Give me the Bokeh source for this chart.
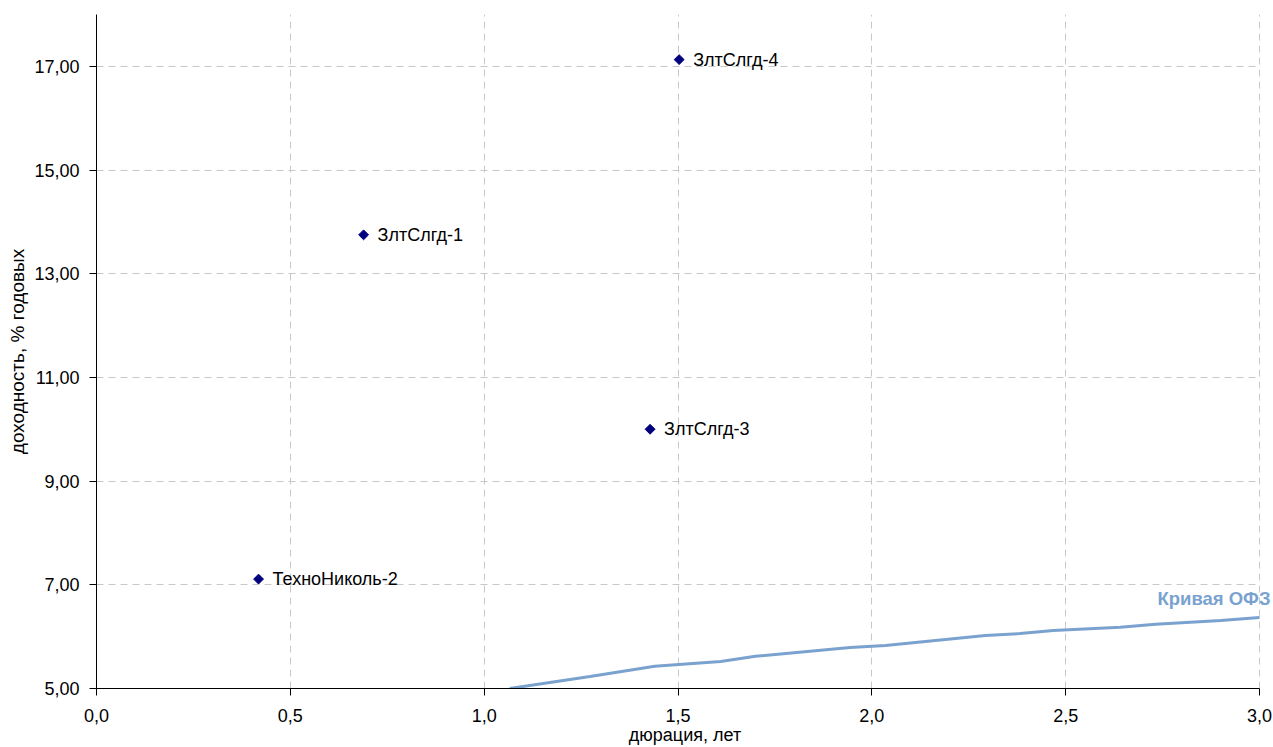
import math
from bokeh.plotting import figure
from bokeh.models import Range1d, FixedTicker, CustomJSTickFormatter, Label, ColumnDataSource
from bokeh.core.properties import value
from bokeh.embed import file_html
from bokeh.resources import INLINE

# Bond points
bond_names = ["ТехноНиколь-2", "ЗлтСлгд-1", "ЗлтСлгд-3", "ЗлтСлгд-4"]
bond_duration = [0.418, 0.689, 1.428, 1.503]
bond_yield = [7.11, 13.75, 10.00, 17.13]

# OFZ curve
ofz_duration = [1.066, 1.273, 1.44, 1.61, 1.70, 1.944, 2.035, 2.293, 2.383, 2.468, 2.641, 2.732, 2.90, 3.0]
ofz_yield = [5.00, 5.23, 5.43, 5.52, 5.62, 5.79, 5.83, 6.02, 6.06, 6.12, 6.18, 6.24, 6.31, 6.37]

x_ticks = [0.0, 0.5, 1.0, 1.5, 2.0, 2.5, 3.0]
y_ticks = [5, 7, 9, 11, 13, 15, 17]

FONT = "Liberation Sans"
CURVE_COLOR = "#7aa2cf"
POINT_COLOR = "#00007f"

X_MAX = 3.0
# extra room to the right of 3.0 so that the curve label is not clipped
X_VIEW_END = X_MAX * 1177 / 1163

p = figure(width=1273, height=747, output_backend="svg", toolbar_location=None,
           x_range=Range1d(0, X_VIEW_END), y_range=Range1d(5, 18),
           min_border_left=96, min_border_right=0, min_border_top=14, min_border_bottom=58)
p.outline_line_color = None
p.background_fill_color = "white"

# grids
for g in (p.xgrid, p.ygrid):
    g.grid_line_color = "#c8c8c8"
    g.grid_line_dash = "7 5"
    g.grid_line_width = 1
p.xgrid.ticker = FixedTicker(ticks=x_ticks)
p.ygrid.ticker = FixedTicker(ticks=y_ticks)
p.ygrid.cross_bounds = (0, X_MAX)

# axes
p.xaxis.ticker = FixedTicker(ticks=x_ticks)
p.yaxis.ticker = FixedTicker(ticks=y_ticks)
p.xaxis.bounds = (0, X_MAX)
p.xaxis.formatter = CustomJSTickFormatter(code="return tick.toFixed(1).replace('.', ',');")
p.yaxis.formatter = CustomJSTickFormatter(code="return tick.toFixed(2).replace('.', ',');")
for ax in (p.xaxis, p.yaxis):
    ax.axis_line_color = "black"
    ax.major_tick_line_color = "black"
    ax.minor_tick_line_color = None
    ax.major_tick_in = 0
    ax.major_tick_out = 7
    ax.major_label_text_font = FONT
    ax.major_label_text_font_size = "18px"
    ax.major_label_text_color = "black"
    ax.axis_label_text_font = FONT
    ax.axis_label_text_font_style = "normal"
    ax.axis_label_text_color = "black"
p.xaxis.axis_label = "дюрация, лет"
p.yaxis.axis_label = "доходность, % годовых"
p.xaxis.axis_label_text_font_size = "18px"
p.yaxis.axis_label_text_font_size = "19px"
p.xaxis.major_label_standoff = 13
p.xaxis.axis_label_standoff = 0
p.yaxis.major_label_standoff = 10
p.yaxis.axis_label_standoff = 3

# OFZ curve
p.line(ofz_duration, ofz_yield, line_color=CURVE_COLOR, line_width=3)

# bonds
src = ColumnDataSource(dict(x=bond_duration, y=bond_yield, name=bond_names))
p.scatter("x", "y", source=src, marker="square", size=7, angle=math.pi / 4,
          fill_color=POINT_COLOR, line_color=POINT_COLOR)
p.text("x", "y", text="name", source=src, x_offset=14, text_baseline="middle",
       text_align="left", text_font=value(FONT), text_font_size="18px", text_color="black")

p.add_layout(Label(x=X_MAX, y=6.74, text="Кривая ОФЗ", text_align="right", text_baseline="middle",
                   x_offset=11, text_font=FONT, text_font_size="18.5px", text_font_style="bold",
                   text_color=CURVE_COLOR))

open("out.html", "w").write(file_html(p, INLINE))
